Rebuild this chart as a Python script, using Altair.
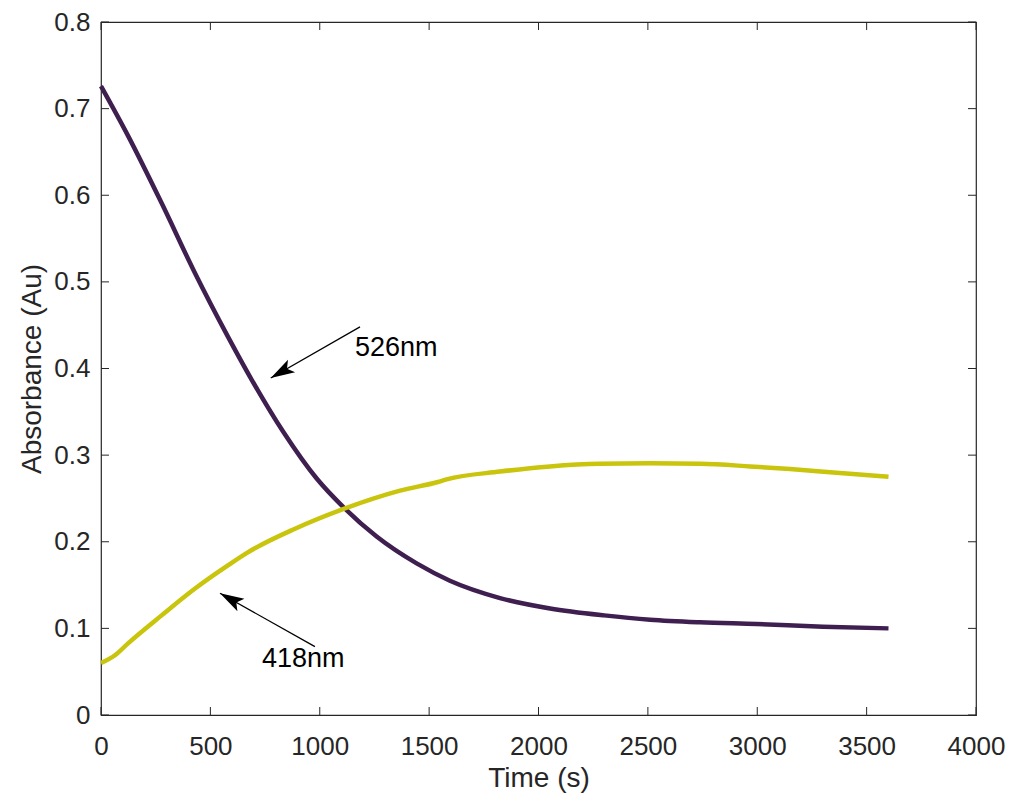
import math
import altair as alt
import pandas as pd

# ---- data ----
time_526 = [0, 125, 277, 430, 582, 689, 833, 986, 1108, 1260, 1443, 1595, 1824, 2053, 2300, 2510, 2738, 2997, 3300, 3600]
abs_526 = [0.726, 0.668, 0.591, 0.510, 0.436, 0.387, 0.327, 0.273, 0.240, 0.206, 0.175, 0.155, 0.135, 0.123, 0.115, 0.110, 0.107, 0.105, 0.102, 0.100]

time_418 = [0, 64, 125, 277, 430, 582, 673, 887, 1100, 1367, 1540, 1580, 1824, 2053, 2281, 2510, 2738, 2967, 3150, 3348, 3600]
abs_418 = [0.060, 0.069, 0.083, 0.115, 0.146, 0.173, 0.188, 0.215, 0.237, 0.259, 0.269, 0.272, 0.281, 0.287, 0.290, 0.2905, 0.290, 0.287, 0.284, 0.280, 0.275]

x_ticks = [0, 500, 1000, 1500, 2000, 2500, 3000, 3500, 4000]
y_ticks = [0, 0.1, 0.2, 0.3, 0.4, 0.5, 0.6, 0.7, 0.8]

labels = ["526nm", "418nm"]
label_time = [1161, 736]
label_abs = [0.4144, 0.0554]
tail_time = [1184, 978]
tail_abs = [0.448, 0.079]
tip_time = [776, 544]
tip_abs = [0.389, 0.1405]

# ---- layout ----
W, H = 875, 693
X_MAX, Y_MAX = 4000, 0.8
FONT = "Liberation Sans"
AX = "#262626"
TICK = 8

lines = pd.DataFrame(
    {"t": time_526 + time_418,
     "a": abs_526 + abs_418,
     "s": ["526nm"] * len(time_526) + ["418nm"] * len(time_418)}
)


def heading(t0, a0, t1, a1):
    dx = (t1 - t0) / X_MAX * W
    dy = -(a1 - a0) / Y_MAX * H
    return math.degrees(math.atan2(dx, -dy)) % 360


ann = pd.DataFrame({
    "label": labels, "lt": label_time, "la": label_abs,
    "t0": tail_time, "a0": tail_abs, "t1": tip_time, "a1": tip_abs,
})
ann["ang"] = [heading(r.t0, r.a0, r.t1, r.a1) for r in ann.itertuples()]

xs = alt.Scale(domain=[0, X_MAX], nice=False, zero=False)
ys = alt.Scale(domain=[0, Y_MAX], nice=False, zero=False)

x_axis = alt.Axis(
    values=x_ticks, title="Time (s)", ticks=False, tickSize=0, domain=False, grid=False,
    labelFontSize=26, labelFont=FONT, labelColor=AX, labelPadding=18,
    titleFontSize=28, titleFont=FONT, titleColor=AX, titleFontWeight="normal",
    titleY=71, titleBaseline="alphabetic", labelFlush=False, format="d",
)
y_axis = alt.Axis(
    values=y_ticks, title="Absorbance (Au)", ticks=False, tickSize=0, domain=False, grid=False,
    labelFontSize=26, labelFont=FONT, labelColor=AX, labelPadding=11,
    titleFontSize=28, titleFont=FONT, titleColor=AX, titleFontWeight="normal",
    titleX=-61, titleY=H / 2, titleAlign="center", titleBaseline="alphabetic",
    labelFlush=False, format=".1~f",
)

line_layer = alt.Chart(lines).mark_line(strokeWidth=4.5, interpolate="monotone").encode(
    x=alt.X("t:Q", scale=xs, axis=x_axis),
    y=alt.Y("a:Q", scale=ys, axis=y_axis),
    color=alt.Color("s:N", scale=alt.Scale(domain=["526nm", "418nm"], range=["#3e1f50", "#c9c40c"]), legend=None),
    detail="s:N",
)

xt = pd.DataFrame({"t": x_ticks})
yt = pd.DataFrame({"a": y_ticks})
tick_mark = dict(color=AX, strokeWidth=1)
ticks_bottom = alt.Chart(xt).mark_rule(**tick_mark).encode(
    x=alt.X("t:Q", scale=xs, axis=x_axis), y=alt.value(H), y2=alt.value(H - TICK))
ticks_top = alt.Chart(xt).mark_rule(**tick_mark).encode(
    x=alt.X("t:Q", scale=xs, axis=x_axis), y=alt.value(0), y2=alt.value(TICK))
ticks_left = alt.Chart(yt).mark_rule(**tick_mark).encode(
    y=alt.Y("a:Q", scale=ys, axis=y_axis), x=alt.value(0), x2=alt.value(TICK))
ticks_right = alt.Chart(yt).mark_rule(**tick_mark).encode(
    y=alt.Y("a:Q", scale=ys, axis=y_axis), x=alt.value(W), x2=alt.value(W - TICK))

shaft = alt.Chart(ann).mark_rule(color="black", strokeWidth=1.3).encode(
    x=alt.X("t0:Q", scale=xs, axis=x_axis), y=alt.Y("a0:Q", scale=ys, axis=y_axis),
    x2="t1:Q", y2="a1:Q")
head = alt.Chart(ann).mark_point(
    shape="M0,0 L0.3,1 L0,0.78 L-0.3,1 Z", filled=True, color="black", opacity=1, size=2300,
).encode(
    x=alt.X("t1:Q", scale=xs, axis=x_axis), y=alt.Y("a1:Q", scale=ys, axis=y_axis),
    angle=alt.Angle("ang:Q", scale=None))
text = alt.Chart(ann).mark_text(
    align="left", baseline="alphabetic", font=FONT, fontSize=27, color="black",
).encode(
    x=alt.X("lt:Q", scale=xs, axis=x_axis), y=alt.Y("la:Q", scale=ys, axis=y_axis), text="label:N")

chart = alt.layer(
    line_layer, ticks_bottom, ticks_top, ticks_left, ticks_right, shaft, head, text
).properties(
    width=W, height=H,
    autosize=alt.AutoSizeParams(type="none"),
    padding={"left": 101, "top": 22, "right": 35, "bottom": 88},
    background="white",
).configure_view(stroke=AX, strokeWidth=1.2)

chart.save("out.html", embed_options={"renderer": "svg", "actions": False})
